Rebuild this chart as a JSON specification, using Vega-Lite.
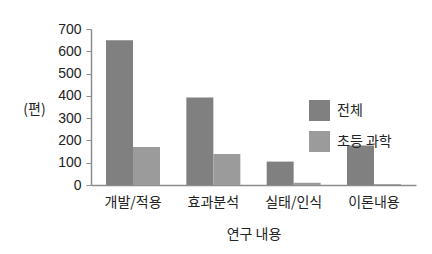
{
  "$schema": "https://vega.github.io/schema/vega-lite/v6.json",
  "autosize": "none",
  "width": 325,
  "height": 156,
  "padding": {"left": 91, "top": 29, "right": 16, "bottom": 69},
  "background": "white",
  "config": {"view": {"stroke": null}},
  "data": {
    "values": [
      {"category": "개발/적용", "series": "전체", "value": 650},
      {"category": "개발/적용", "series": "초등 과학", "value": 170},
      {"category": "효과분석", "series": "전체", "value": 393},
      {"category": "효과분석", "series": "초등 과학", "value": 139},
      {"category": "실태/인식", "series": "전체", "value": 105},
      {"category": "실태/인식", "series": "초등 과학", "value": 10},
      {"category": "이론내용", "series": "전체", "value": 177},
      {"category": "이론내용", "series": "초등 과학", "value": 4}
    ]
  },
  "mark": {"type": "bar"},
  "encoding": {
    "x": {
      "field": "category",
      "type": "nominal",
      "sort": ["개발/적용", "효과분석", "실태/인식", "이론내용"],
      "scale": {"paddingInner": 0.328, "paddingOuter": 0.187},
      "axis": {
        "title": "연구 내용",
        "titleFont": "Noto Sans CJK KR",
        "titleFontSize": 14,
        "titleFontWeight": "normal",
        "titleColor": "#222",
        "titlePadding": 18,
        "labelAngle": 0,
        "labelFont": "Noto Sans CJK KR",
        "labelFontSize": 14,
        "labelColor": "#222",
        "labelPadding": 10,
        "ticks": false,
        "domainColor": "#8c8c8c",
        "domainWidth": 1.5
      }
    },
    "xOffset": {"field": "series", "type": "nominal", "sort": ["전체", "초등 과학"], "scale": {"paddingInner": 0, "paddingOuter": 0}},
    "y": {
      "field": "value",
      "type": "quantitative",
      "scale": {"domain": [0, 700], "nice": false},
      "axis": {
        "values": [0, 100, 200, 300, 400, 500, 600, 700],
        "grid": false,
        "title": "(편)",
        "titleAngle": 0,
        "titleX": -57,
        "titleY": 80,
        "titleAlign": "center",
        "titleBaseline": "middle",
        "titleFont": "Noto Sans CJK KR",
        "titleFontSize": 14,
        "titleFontWeight": "normal",
        "titleColor": "#222",
        "labelFont": "Liberation Sans",
        "labelFontSize": 14,
        "labelColor": "#222",
        "labelPadding": 5,
        "tickSize": 5,
        "tickColor": "#8c8c8c",
        "domainColor": "#8c8c8c",
        "domainWidth": 1.5
      }
    },
    "color": {
      "field": "series",
      "type": "nominal",
      "sort": ["전체", "초등 과학"],
      "scale": {"domain": ["전체", "초등 과학"], "range": ["#808080", "#9b9b9b"]},
      "legend": {
        "title": null,
        "orient": "none",
        "legendX": 218,
        "legendY": 71,
        "symbolType": "square",
        "symbolSize": 441,
        "symbolStrokeWidth": 0,
        "symbolOpacity": 1,
        "labelFont": "Noto Sans CJK KR",
        "labelFontSize": 14,
        "labelColor": "#222",
        "labelOffset": 7,
        "rowPadding": 10
      }
    }
  }
}
